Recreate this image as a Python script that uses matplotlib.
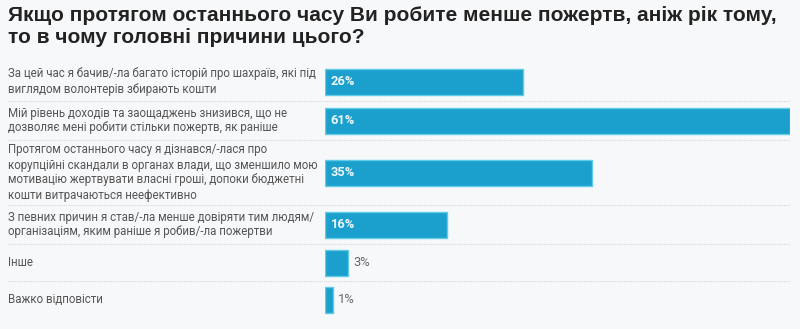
import matplotlib.pyplot as plt
from matplotlib.transforms import blended_transform_factory

# дані
labels = [
    "За цей час я бачив/-ла багато історій про шахраїв, які під\nвиглядом волонтерів збирають кошти",
    "Мій рівень доходів та заощаджень знизився, що не\nдозволяє мені робити стільки пожертв, як раніше",
    "Протягом останнього часу я дізнався/-лася про\nкорупційні скандали в органах влади, що зменшило мою\nмотивацію жертвувати власні гроші, допоки бюджетні\nкошти витрачаються неефективно",
    "З певних причин я став/-ла менше довіряти тим людям/\nорганізаціям, яким раніше я робив/-ла пожертви",
    "Інше",
    "Важко відповісти",
]
values = [26, 61, 35, 16, 3, 1]
title = ("Якщо протягом останнього часу Ви робите менше пожертв, аніж рік тому,\n"
         "то в чому головні причини цього?")

W, H = 800, 329
bg = "#f7f8fa"
bar_color = "#1ba0cd"
edge_color = "#5fcbe6"

fig = plt.figure(figsize=(W / 100, H / 100), dpi=100, facecolor=bg)
fig.text(8 / W, 1 - 6 / H, title, ha="left", va="top", fontsize=15,
         fontweight="bold", family="Liberation Sans", color="#222222",
         linespacing=1.2)

# вісь для барів: x у відсотках, y у пікселях від верху
ax = fig.add_axes([325 / W, 0, 465 / W, 1])
ax.set_facecolor(bg)
ax.set_xlim(0, 61)
ax.set_ylim(H, 0)
ax.axis("off")
fig_x = blended_transform_factory(fig.transFigure, ax.transData)

# висота рядка залежить від кількості рядків підпису
top = 62
for i, (lab, v) in enumerate(zip(labels, values)):
    n = lab.count("\n") + 1
    h = max(13 * (n + 1), 37)
    yc = top + h / 2
    ax.barh(yc, v, height=26, color=bar_color, edgecolor=edge_color, linewidth=1)
    ax.text(8 / W, yc, lab, transform=fig_x, ha="left", va="center",
            fontsize=8.3, family="Roboto", color="#555555", linespacing=1.2)
    if v >= 10:
        ax.annotate(f"{v}%", (0, yc), xytext=(4, 0), textcoords="offset points",
                    ha="left", va="center", fontsize=9.3, family="Roboto",
                    fontweight="bold", color="#eef8fc")
    else:
        ax.annotate(f"{v}%", (v, yc), xytext=(4, 0), textcoords="offset points",
                    ha="left", va="center", fontsize=9.3, family="Roboto",
                    color="#666666")
    top += h
    if i < len(labels) - 1:
        ax.plot([8 / W, 790 / W], [top, top], transform=fig_x, color="#d6d8dc",
                linewidth=0.8, linestyle=(0, (1, 1)), clip_on=False)

fig.savefig("out.png", dpi=100, facecolor=bg)
